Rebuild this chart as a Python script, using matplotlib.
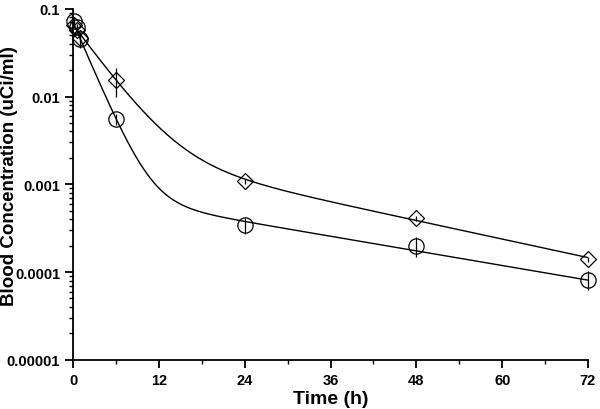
import matplotlib
matplotlib.use("Agg")
import matplotlib.pyplot as plt
import numpy as np
from matplotlib.ticker import FixedLocator, FixedFormatter, LogLocator, NullFormatter

plt.rcParams["font.family"] = ["Liberation Sans", "DejaVu Sans"]
plt.rcParams["font.weight"] = "bold"

# sampling times (h)
times = [0.083, 0.5, 1, 6, 24, 48, 72]

# circle series (mean, sd)
circ_mean = [0.072, 0.062, 0.045, 0.0056, 0.00034, 0.00020, 0.000082]
circ_sd = [0.006, 0.006, 0.009, 0.0008, 0.00007, 0.00005, 0.00002]

# diamond series (mean, sd)
diam_mean = [0.066, 0.058, 0.046, 0.0155, 0.00108, 0.00041, 0.00014]
diam_sd = [0.005, 0.005, 0.004, 0.0055, 0.00008, 0.00003, 0.00001]

# biexponential fit parameters: A, alpha, B, beta
circ_fit = [0.069, 0.44, 0.00081, 0.032]
diam_fit = [0.063, 0.259, 0.0027, 0.0405]

x_ticks = [0, 12, 24, 36, 48, 60, 72]
y_ticks = [0.00001, 0.0001, 0.001, 0.01, 0.1]
y_labels = ["0.00001", "0.0001", "0.001", "0.01", "0.1"]


def biexp(t, p):
    return p[0] * np.exp(-p[1] * t) + p[2] * np.exp(-p[3] * t)


fig = plt.figure(figsize=(6, 4.1), dpi=100)
ax = fig.add_axes([0.122, 0.12, 0.858, 0.856])

t = np.linspace(0, 72, 600)
ax.plot(t, biexp(t, circ_fit), color="black", lw=1)
ax.plot(t, biexp(t, diam_fit), color="black", lw=1)

for mean, sd, mk, ms in [(circ_mean, circ_sd, "o", 11), (diam_mean, diam_sd, "D", 8.5)]:
    eb = ax.errorbar(times, mean, yerr=sd, fmt=mk, ms=ms, mfc="none", mec="black",
                     mew=0.9, ecolor="black", elinewidth=0.9, capsize=0)
    for art in eb.lines[0:1] + tuple(eb.lines[2]):
        art.set_clip_on(False)

ax.set_yscale("log")
ax.set_xlim(0, 72)
ax.set_ylim(0.00001, 0.1)
ax.yaxis.set_major_locator(FixedLocator(y_ticks))
ax.yaxis.set_major_formatter(FixedFormatter(y_labels))
ax.yaxis.set_minor_locator(LogLocator(base=10, subs=np.arange(2, 10)))
ax.yaxis.set_minor_formatter(NullFormatter())
ax.set_xticks(x_ticks)
ax.set_xticks([6, 18, 30, 42, 54, 66], minor=True)

for s in ["top", "right"]:
    ax.spines[s].set_visible(False)
for s in ["left", "bottom"]:
    ax.spines[s].set_linewidth(1.3)

ax.tick_params(which="major", direction="out", length=6, width=1.3, labelsize=10.5)
ax.tick_params(which="minor", direction="out", length=3, width=1)

ax.set_xlabel("Time (h)", fontsize=14, fontweight="bold", labelpad=2)
ax.set_ylabel("Blood Concentration (uCi/ml)", fontsize=13.5, fontweight="bold")
ax.yaxis.set_label_coords(-0.108, 0.525)

fig.savefig("out.png", dpi=100)
